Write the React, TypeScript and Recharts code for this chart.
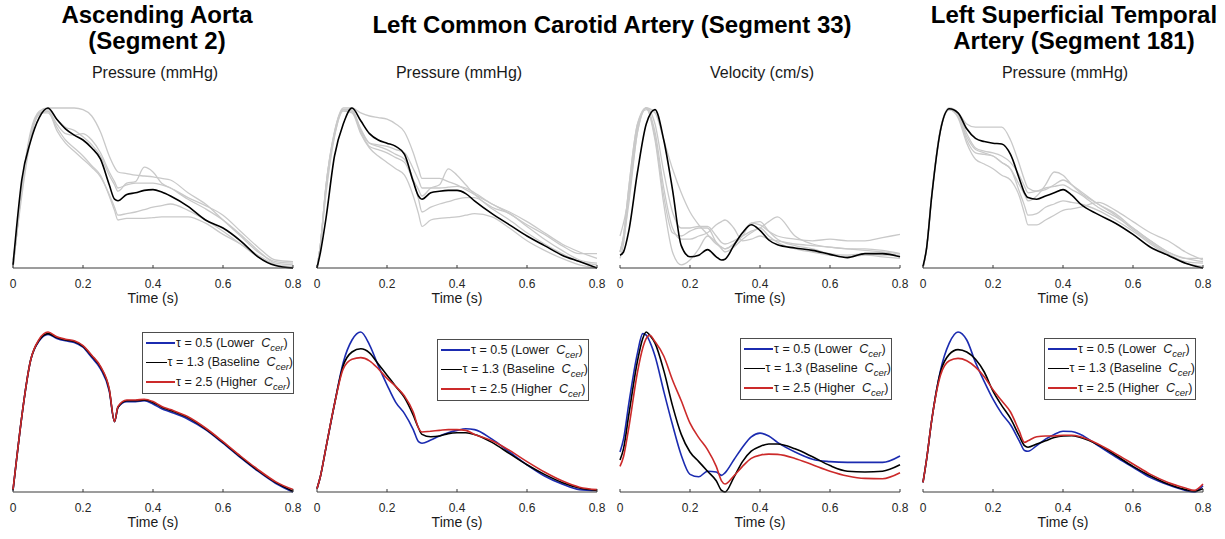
import React from 'react';
import { LineChart, Line, XAxis, YAxis, Legend } from 'recharts';

const FONT = '"Liberation Sans", Arial, Helvetica, sans-serif';

// time grids (s)
const T = [0, 0.01, 0.025, 0.05, 0.075, 0.1, 0.125, 0.15, 0.175, 0.2, 0.225, 0.25, 0.275, 0.29, 0.3, 0.325, 0.35, 0.375, 0.4, 0.425, 0.45, 0.5, 0.55, 0.6, 0.65, 0.7, 0.75, 0.8];
const T_VEL = [0, 0.01, 0.025, 0.05, 0.065, 0.075, 0.085, 0.1, 0.125, 0.15, 0.175, 0.2, 0.225, 0.25, 0.275, 0.29, 0.3, 0.325, 0.35, 0.375, 0.4, 0.425, 0.45, 0.5, 0.55, 0.6, 0.65, 0.7, 0.75, 0.8];
const T_STA = [0, 0.01, 0.025, 0.05, 0.075, 0.1, 0.125, 0.15, 0.175, 0.2, 0.225, 0.25, 0.275, 0.29, 0.3, 0.325, 0.35, 0.375, 0.4, 0.425, 0.45, 0.5, 0.55, 0.6, 0.65, 0.7, 0.75, 0.775, 0.8];
const X_TICKS = [0, 0.2, 0.4, 0.6, 0.8];

// top row: normalised waveforms (black = this model, grey = other datasets)
const AA_P_MODEL = [0.02, 0.25, 0.55, 0.79, 0.94, 1.0, 0.93, 0.87, 0.83, 0.80, 0.75, 0.68, 0.52, 0.43, 0.42, 0.46, 0.47, 0.485, 0.49, 0.475, 0.45, 0.385, 0.30, 0.25, 0.17, 0.07, 0.015, 0.0];
const AA_P_OTHERS = [
  [0, 0.2, 0.5, 0.85, 0.98, 1.0, 1.0, 1.0, 1.0, 0.99, 0.95, 0.85, 0.70, 0.63, 0.60, 0.59, 0.58, 0.575, 0.57, 0.56, 0.55, 0.47, 0.40, 0.30, 0.20, 0.10, 0.04, 0.03],
  [0.05, 0.2, 0.45, 0.8, 0.97, 0.99, 0.93, 0.88, 0.86, 0.82, 0.77, 0.70, 0.58, 0.52, 0.48, 0.53, 0.54, 0.63, 0.60, 0.53, 0.50, 0.43, 0.37, 0.30, 0.21, 0.11, 0.03, 0.02],
  [0, 0.2, 0.5, 0.82, 0.97, 0.97, 0.88, 0.80, 0.75, 0.70, 0.64, 0.58, 0.45, 0.36, 0.30, 0.31, 0.31, 0.31, 0.315, 0.32, 0.32, 0.32, 0.28, 0.21, 0.15, 0.08, 0.02, 0.0],
  [0, 0.2, 0.5, 0.83, 0.96, 0.98, 0.86, 0.78, 0.73, 0.68, 0.63, 0.57, 0.46, 0.38, 0.33, 0.34, 0.35, 0.365, 0.38, 0.39, 0.40, 0.36, 0.30, 0.23, 0.15, 0.07, 0.02, 0.01],
  [0, 0.2, 0.5, 0.83, 0.97, 0.98, 0.90, 0.84, 0.83, 0.84, 0.80, 0.72, 0.60, 0.54, 0.50, 0.52, 0.53, 0.53, 0.53, 0.52, 0.50, 0.44, 0.39, 0.33, 0.23, 0.13, 0.05, 0.04],
];

const CCA_P_MODEL = [0, 0.1, 0.3, 0.7, 0.9, 1.0, 0.92, 0.84, 0.80, 0.78, 0.76, 0.71, 0.54, 0.45, 0.43, 0.47, 0.48, 0.485, 0.485, 0.465, 0.42, 0.34, 0.27, 0.20, 0.14, 0.08, 0.04, 0.0];
const CCA_P_OTHERS = [
  [0, 0.15, 0.5, 0.85, 1.0, 1.0, 0.97, 0.95, 0.94, 0.93, 0.90, 0.85, 0.72, 0.62, 0.56, 0.56, 0.56, 0.54, 0.52, 0.49, 0.46, 0.40, 0.34, 0.27, 0.21, 0.14, 0.09, 0.09],
  [0, 0.15, 0.45, 0.82, 0.99, 0.98, 0.85, 0.76, 0.74, 0.72, 0.69, 0.66, 0.55, 0.49, 0.45, 0.50, 0.52, 0.62, 0.58, 0.52, 0.46, 0.38, 0.34, 0.26, 0.18, 0.11, 0.05, 0.03],
  [0, 0.15, 0.5, 0.83, 0.98, 0.97, 0.84, 0.75, 0.70, 0.66, 0.62, 0.58, 0.45, 0.34, 0.26, 0.30, 0.31, 0.315, 0.32, 0.33, 0.34, 0.32, 0.25, 0.17, 0.11, 0.06, 0.02, 0.0],
  [0, 0.15, 0.5, 0.85, 0.99, 0.98, 0.87, 0.78, 0.76, 0.74, 0.71, 0.68, 0.55, 0.43, 0.35, 0.38, 0.40, 0.415, 0.43, 0.44, 0.44, 0.37, 0.30, 0.22, 0.15, 0.09, 0.04, 0.02],
  [0, 0.15, 0.48, 0.84, 0.99, 0.99, 0.86, 0.78, 0.77, 0.76, 0.74, 0.72, 0.62, 0.55, 0.50, 0.50, 0.50, 0.505, 0.51, 0.50, 0.47, 0.40, 0.35, 0.29, 0.22, 0.15, 0.10, 0.06],
];

const CCA_V_MODEL = [0.08, 0.1, 0.23, 0.60, 0.90, 0.99, 0.80, 0.49, 0.14, 0.07, 0.08, 0.115, 0.07, 0.05, 0.055, 0.14, 0.22, 0.27, 0.235, 0.175, 0.145, 0.125, 0.11, 0.085, 0.065, 0.09, 0.09, 0.07];
const CCA_V_OTHERS = [
  [0.2, 0.28, 0.45, 0.85, 1.0, 0.97, 0.80, 0.62, 0.47, 0.35, 0.27, 0.21, 0.15, 0.13, 0.12, 0.15, 0.20, 0.28, 0.27, 0.23, 0.20, 0.18, 0.17, 0.18, 0.17, 0.17, 0.19, 0.21],
  [0.1, 0.18, 0.4, 0.85, 1.0, 0.9, 0.6, 0.35, 0.25, 0.25, 0.26, 0.26, 0.2, 0.16, 0.15, 0.17, 0.20, 0.23, 0.25, 0.29, 0.32, 0.2, 0.15, 0.13, 0.12, 0.12, 0.11, 0.09],
  [0.1, 0.2, 0.5, 0.9, 0.99, 0.85, 0.5, 0.25, 0.18, 0.18, 0.20, 0.22, 0.27, 0.29, 0.30, 0.25, 0.17, 0.18, 0.2, 0.18, 0.17, 0.15, 0.14, 0.13, 0.12, 0.11, 0.10, 0.09],
  [0.06, 0.15, 0.45, 0.88, 1.0, 0.8, 0.4, 0.1, 0.02, 0.05, 0.12, 0.2, 0.16, 0.13, 0.12, 0.15, 0.22, 0.28, 0.29, 0.23, 0.18, 0.14, 0.12, 0.09, 0.08, 0.09, 0.08, 0.08],
  [0.1, 0.2, 0.5, 0.9, 1.0, 0.82, 0.45, 0.22, 0.2, 0.23, 0.25, 0.25, 0.16, 0.12, 0.1, 0.13, 0.18, 0.22, 0.25, 0.2, 0.16, 0.12, 0.1, 0.08, 0.07, 0.08, 0.07, 0.06],
];

const STA_P_MODEL = [0.01, 0.12, 0.45, 0.86, 0.995, 0.97, 0.87, 0.81, 0.79, 0.78, 0.775, 0.71, 0.56, 0.47, 0.44, 0.43, 0.45, 0.47, 0.49, 0.455, 0.40, 0.335, 0.28, 0.21, 0.13, 0.08, 0.03, 0.0];
const STA_P_OTHERS = [
  [0, 0.12, 0.45, 0.87, 0.99, 0.97, 0.90, 0.88, 0.88, 0.88, 0.88, 0.80, 0.65, 0.55, 0.50, 0.48, 0.49, 0.52, 0.55, 0.52, 0.48, 0.40, 0.34, 0.25, 0.17, 0.10, 0.06, 0.06],
  [0, 0.12, 0.45, 0.86, 0.99, 0.95, 0.82, 0.74, 0.72, 0.70, 0.66, 0.62, 0.52, 0.46, 0.42, 0.45, 0.52, 0.60, 0.58, 0.52, 0.47, 0.40, 0.33, 0.24, 0.16, 0.09, 0.04, 0.03],
  [0, 0.12, 0.45, 0.86, 0.99, 0.94, 0.78, 0.68, 0.65, 0.62, 0.58, 0.55, 0.45, 0.34, 0.27, 0.27, 0.30, 0.33, 0.36, 0.37, 0.38, 0.41, 0.36, 0.29, 0.22, 0.17, 0.10, 0.05],
  [0, 0.12, 0.45, 0.86, 0.99, 0.96, 0.80, 0.72, 0.71, 0.70, 0.66, 0.62, 0.48, 0.39, 0.33, 0.34, 0.38, 0.40, 0.42, 0.41, 0.40, 0.36, 0.30, 0.23, 0.15, 0.08, 0.03, 0.01],
  [0, 0.12, 0.46, 0.87, 1.0, 0.97, 0.84, 0.75, 0.73, 0.72, 0.70, 0.66, 0.58, 0.51, 0.47, 0.48, 0.50, 0.51, 0.52, 0.49, 0.46, 0.38, 0.32, 0.25, 0.17, 0.10, 0.06, 0.04],
];

// bottom row: tau sweep (lower / baseline / higher C_cer)
const TAU = ['0.5', '1.3', '2.5'];
const TAU_LEVEL = ['Lower', 'Baseline', 'Higher'];
const TAU_COLORS = ['#1b2bb0', '#000000', '#cc2a2a'];

const AA_LOWER = [0.01, 0.2, 0.47, 0.82, 0.945, 0.985, 0.96, 0.945, 0.935, 0.905, 0.84, 0.77, 0.63, 0.44, 0.53, 0.565, 0.565, 0.57, 0.55, 0.52, 0.50, 0.455, 0.39, 0.305, 0.215, 0.13, 0.055, 0.0];
const AA_BASE = [0.01, 0.2, 0.47, 0.82, 0.95, 0.99, 0.965, 0.95, 0.94, 0.91, 0.85, 0.78, 0.64, 0.44, 0.53, 0.57, 0.57, 0.575, 0.56, 0.53, 0.51, 0.465, 0.395, 0.31, 0.22, 0.135, 0.06, 0.005];
const AA_HIGHER = [0.015, 0.2, 0.47, 0.82, 0.955, 1.0, 0.97, 0.955, 0.945, 0.915, 0.855, 0.785, 0.645, 0.44, 0.535, 0.575, 0.575, 0.58, 0.565, 0.535, 0.515, 0.47, 0.40, 0.315, 0.225, 0.14, 0.065, 0.015];

const CCA_P_LOWER = [0.02, 0.1, 0.27, 0.55, 0.81, 0.95, 1.0, 0.92, 0.79, 0.67, 0.56, 0.49, 0.39, 0.315, 0.305, 0.325, 0.35, 0.37, 0.385, 0.395, 0.39, 0.33, 0.25, 0.17, 0.10, 0.05, 0.015, 0.01];
const CCA_P_BASE = [0.02, 0.1, 0.27, 0.55, 0.79, 0.875, 0.895, 0.87, 0.80, 0.73, 0.66, 0.59, 0.48, 0.40, 0.36, 0.345, 0.35, 0.365, 0.37, 0.37, 0.36, 0.31, 0.24, 0.17, 0.11, 0.06, 0.025, 0.01];
const CCA_P_HIGHER = [0.02, 0.1, 0.27, 0.55, 0.77, 0.83, 0.84, 0.82, 0.77, 0.71, 0.66, 0.60, 0.50, 0.40, 0.375, 0.38, 0.385, 0.39, 0.39, 0.385, 0.36, 0.32, 0.26, 0.19, 0.125, 0.07, 0.03, 0.015];

const CCA_V_LOWER = [0.25, 0.33, 0.55, 0.87, 0.99, 0.98, 0.94, 0.85, 0.63, 0.42, 0.23, 0.11, 0.095, 0.13, 0.125, 0.104, 0.12, 0.2, 0.28, 0.345, 0.368, 0.35, 0.31, 0.25, 0.205, 0.19, 0.185, 0.185, 0.185, 0.225];
const CCA_V_BASE = [0.2, 0.27, 0.48, 0.82, 0.96, 1.0, 0.98, 0.93, 0.76, 0.54, 0.36, 0.25, 0.19, 0.13, 0.07, 0.01, 0.0, 0.09, 0.19, 0.255, 0.285, 0.30, 0.30, 0.27, 0.22, 0.165, 0.13, 0.125, 0.13, 0.17];
const CCA_V_HIGHER = [0.16, 0.22, 0.40, 0.75, 0.90, 0.96, 0.98, 0.94, 0.85, 0.70, 0.57, 0.43, 0.34, 0.265, 0.16, 0.07, 0.05, 0.10, 0.16, 0.21, 0.23, 0.237, 0.235, 0.21, 0.17, 0.13, 0.10, 0.085, 0.083, 0.12];

const STA_LOWER = [0.06, 0.2, 0.45, 0.76, 0.93, 1.0, 0.95, 0.81, 0.69, 0.58, 0.49, 0.42, 0.32, 0.26, 0.255, 0.29, 0.33, 0.36, 0.38, 0.378, 0.36, 0.29, 0.22, 0.155, 0.09, 0.045, 0.01, 0.0, 0.04];
const STA_BASE = [0.06, 0.2, 0.45, 0.75, 0.86, 0.89, 0.875, 0.83, 0.75, 0.63, 0.54, 0.46, 0.35, 0.29, 0.28, 0.30, 0.32, 0.34, 0.35, 0.352, 0.34, 0.295, 0.23, 0.16, 0.10, 0.05, 0.015, 0.005, 0.02];
const STA_HIGHER = [0.06, 0.2, 0.45, 0.73, 0.82, 0.835, 0.82, 0.78, 0.72, 0.64, 0.57, 0.50, 0.38, 0.31, 0.32, 0.345, 0.35, 0.35, 0.355, 0.355, 0.345, 0.30, 0.24, 0.175, 0.11, 0.06, 0.025, 0.01, 0.05];

const PLOT_W = 280;
const PLOT_H = 160;
const AXIS_H = 42;
const TOP_ROW_Y = 108;
const BOTTOM_ROW_Y = 332;
const PANEL_X = [13, 317, 620, 923];

const timeAxis = () => (
  <XAxis
    dataKey="t"
    type="number"
    domain={[0, 0.8]}
    ticks={X_TICKS}
    interval={0}
    height={AXIS_H}
    tickSize={-3}
    tickMargin={14}
    tick={{ fontSize: 12, fill: '#262626' }}
    axisLine={{ stroke: '#3a3a3a' }}
    tickLine={{ stroke: '#3a3a3a' }}
    label={{ value: 'Time (s)', position: 'insideBottom', offset: 7, fontSize: 14, fill: '#1a1a1a' }}
  />
);

function WavePanel({ left, time, model, others }: { left: number; time: number[]; model: number[]; others: number[][] }) {
  const rows = time.map((t, i) => {
    const row: Record<string, number> = { t, model: model[i] };
    others.forEach((s, j) => {
      row['o' + j] = s[i];
    });
    return row;
  });
  return (
    <div style={{ position: 'absolute', left: left - 10, top: TOP_ROW_Y - 8 }}>
      <LineChart width={PLOT_W + 20} height={PLOT_H + 8 + AXIS_H} data={rows} margin={{ top: 8, right: 10, bottom: 0, left: 10 }} style={{ fontFamily: FONT }}>
        {timeAxis()}
        <YAxis hide domain={[0, 1]} />
        {others.map((_, j) => (
          <Line key={j} dataKey={'o' + j} type="monotone" stroke="#c9c9c9" strokeWidth={1.3} dot={false} activeDot={false} isAnimationActive={false} />
        ))}
        <Line dataKey="model" type="monotone" stroke="#000000" strokeWidth={1.6} dot={false} activeDot={false} isAnimationActive={false} />
      </LineChart>
    </div>
  );
}

const TAU_KEYS = ['lower', 'base', 'higher'];

function CcerLegend({ payload }: any) {
  return (
    <div style={{ border: '1px solid #4d4d4d', background: '#fff', height: 62, boxSizing: 'border-box', fontFamily: FONT }}>
      {(payload || []).map((entry: any) => {
        const i = TAU_KEYS.indexOf(entry.dataKey);
        return (
          <div key={entry.dataKey} style={{ display: 'flex', alignItems: 'center', height: 19.5, fontSize: 12.5, color: '#1a1a1a', whiteSpace: 'pre' }}>
            <span style={{ display: 'inline-block', width: 29, marginLeft: 3, marginRight: 1, borderTop: `${i === 1 ? 1 : 2}px solid ${entry.color}` }} />
            <span>
              {'τ = ' + TAU[i] + ' (' + TAU_LEVEL[i] + '  '}
              <i>C</i>
              <i style={{ fontSize: 9.5, position: 'relative', top: 4 }}>cer</i>
              {')'}
            </span>
          </div>
        );
      })}
    </div>
  );
}

function TauPanel({ left, time, series, legendAt }: { left: number; time: number[]; series: number[][]; legendAt: [number, number] }) {
  const rows = time.map((t, i) => ({ t, lower: series[0][i], base: series[1][i], higher: series[2][i] }));
  return (
    <div style={{ position: 'absolute', left: left - 10, top: BOTTOM_ROW_Y - 8 }}>
      <LineChart width={PLOT_W + 20} height={PLOT_H + 8 + AXIS_H} data={rows} margin={{ top: 8, right: 10, bottom: 0, left: 10 }} style={{ fontFamily: FONT }}>
        {timeAxis()}
        <YAxis hide domain={[0, 1]} />
        {TAU_KEYS.map((k, i) => (
          <Line
            key={k}
            dataKey={k}
            name={`τ = ${TAU[i]} (${TAU_LEVEL[i]} Ccer)`}
            type="monotone"
            stroke={TAU_COLORS[i]}
            strokeWidth={1.6}
            dot={false}
            activeDot={false}
            isAnimationActive={false}
          />
        ))}
        <Legend
          layout="vertical"
          align="center"
          verticalAlign="middle"
          wrapperStyle={{ left: legendAt[0], top: legendAt[1], width: 152 }}
          content={<CcerLegend />}
        />
      </LineChart>
    </div>
  );
}

const titleStyle: React.CSSProperties = {
  position: 'absolute',
  textAlign: 'center',
  fontSize: 24,
  fontWeight: 'bold',
  lineHeight: '25.5px',
  color: '#000',
  whiteSpace: 'nowrap',
};

const subStyle: React.CSSProperties = {
  position: 'absolute',
  top: 65,
  width: 200,
  textAlign: 'center',
  fontSize: 16,
  lineHeight: '16px',
  color: '#1a1a1a',
};

export default function App() {
  const subtitles = ['Pressure (mmHg)', 'Pressure (mmHg)', 'Velocity (cm/s)', 'Pressure (mmHg)'];
  return (
    <div style={{ position: 'absolute', left: 0, top: 0, width: 1225, height: 539, background: '#fff', fontFamily: FONT, overflow: 'hidden' }}>
      <div style={{ ...titleStyle, left: 57, top: 2, width: 200 }}>
        Ascending Aorta
        <br />
        (Segment 2)
      </div>
      <div style={{ ...titleStyle, left: 312, top: 11.5, width: 600 }}>Left Common Carotid Artery (Segment 33)</div>
      <div style={{ ...titleStyle, left: 924, top: 2, width: 300 }}>
        Left Superficial Temporal
        <br />
        Artery (Segment 181)
      </div>
      {subtitles.map((s, i) => (
        <div key={i} style={{ ...subStyle, left: PANEL_X[i] + 142 - 100 }}>
          {s}
        </div>
      ))}

      <WavePanel left={PANEL_X[0]} time={T} model={AA_P_MODEL} others={AA_P_OTHERS} />
      <WavePanel left={PANEL_X[1]} time={T} model={CCA_P_MODEL} others={CCA_P_OTHERS} />
      <WavePanel left={PANEL_X[2]} time={T} model={CCA_V_MODEL} others={CCA_V_OTHERS} />
      <WavePanel left={PANEL_X[3]} time={T} model={STA_P_MODEL} others={STA_P_OTHERS} />

      <TauPanel left={PANEL_X[0]} time={T} series={[AA_LOWER, AA_BASE, AA_HIGHER]} legendAt={[139, 8]} />
      <TauPanel left={PANEL_X[1]} time={T} series={[CCA_P_LOWER, CCA_P_BASE, CCA_P_HIGHER]} legendAt={[130, 15]} />
      <TauPanel left={PANEL_X[2]} time={T_VEL} series={[CCA_V_LOWER, CCA_V_BASE, CCA_V_HIGHER]} legendAt={[130, 14]} />
      <TauPanel left={PANEL_X[3]} time={T_STA} series={[STA_LOWER, STA_BASE, STA_HIGHER]} legendAt={[131, 14]} />
    </div>
  );
}
